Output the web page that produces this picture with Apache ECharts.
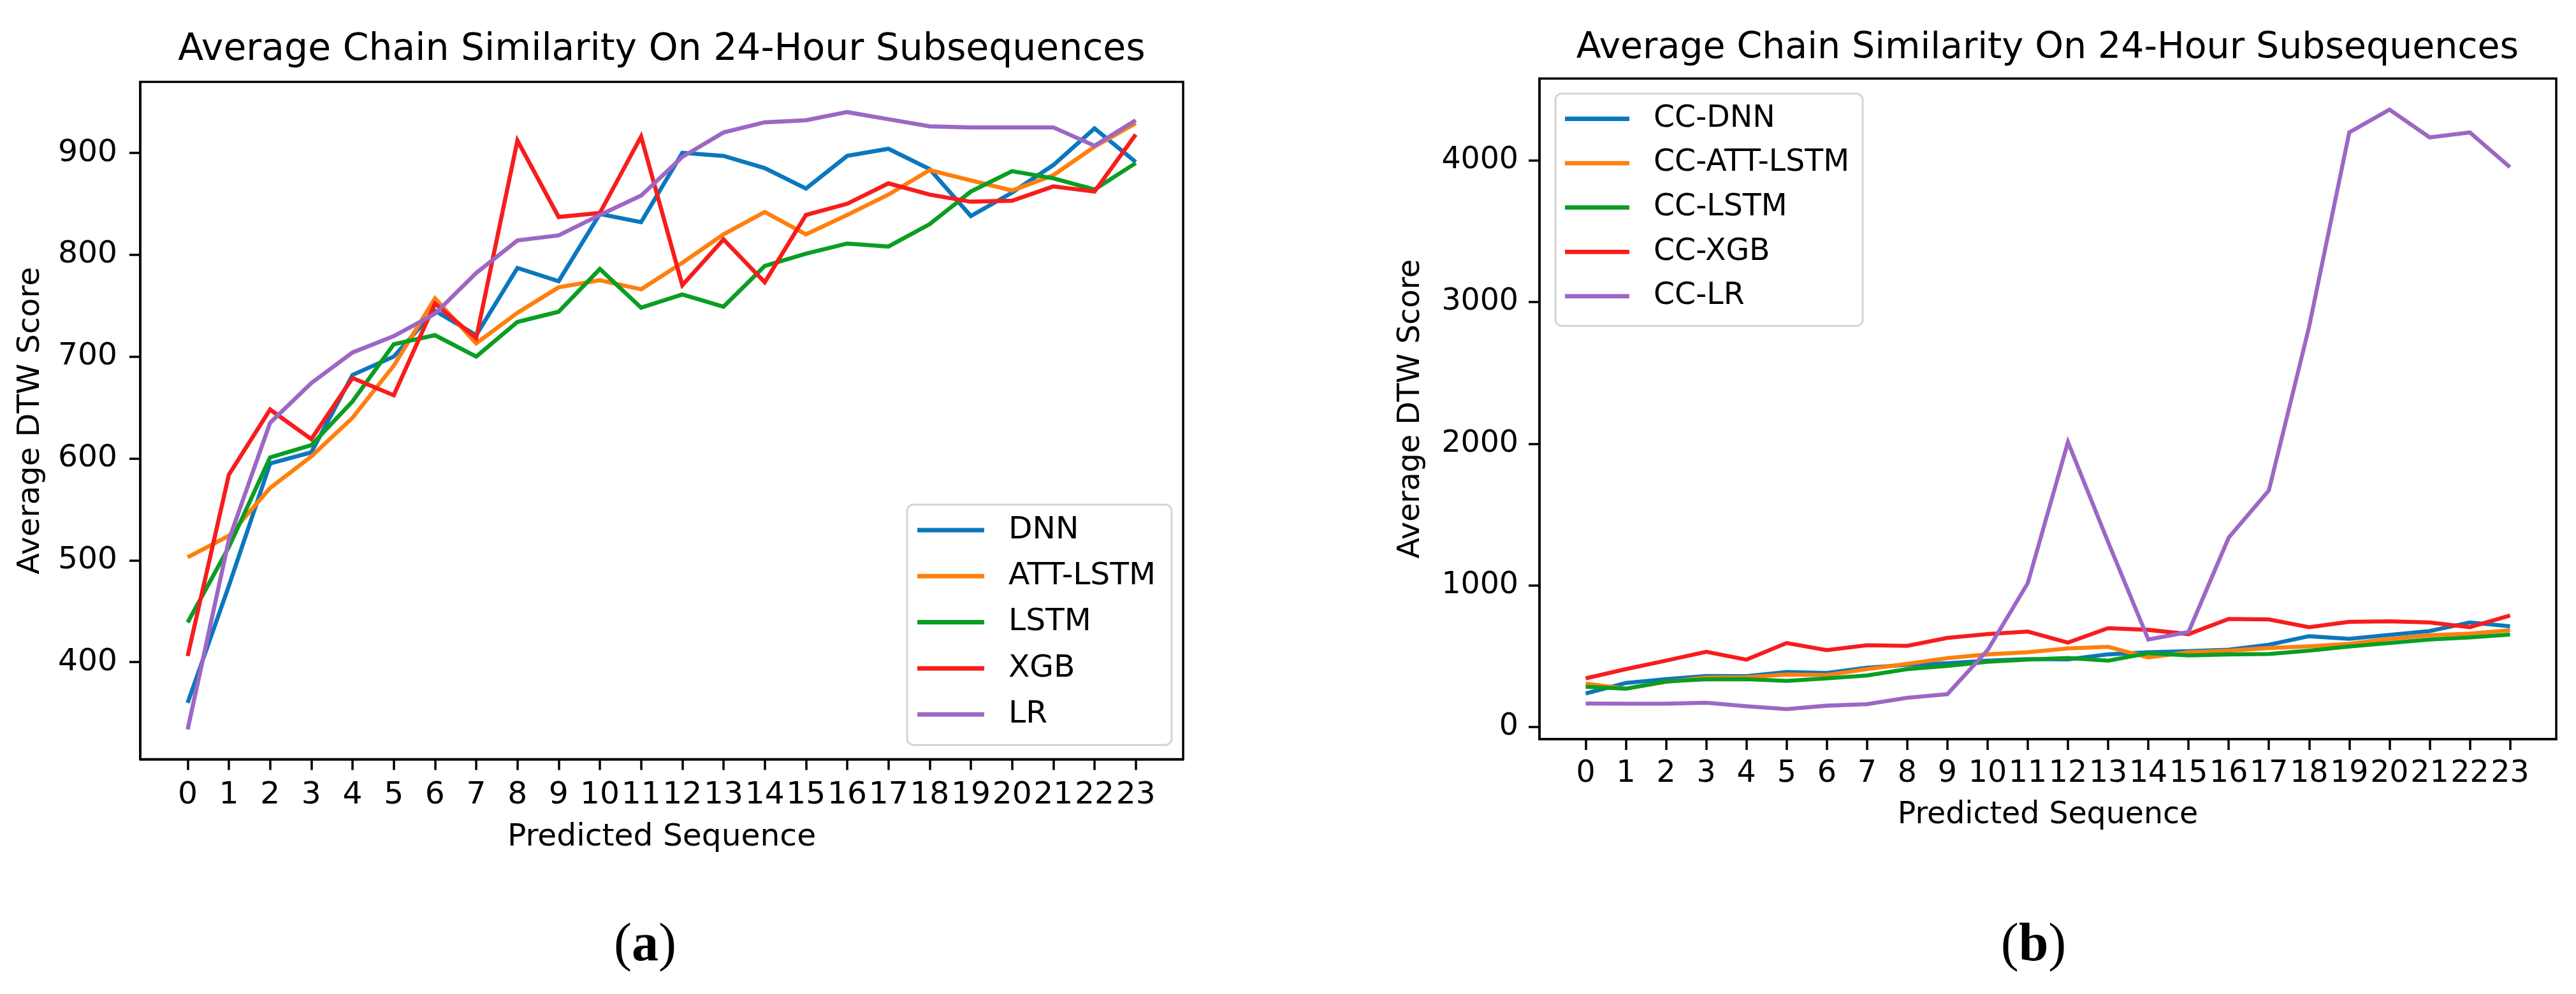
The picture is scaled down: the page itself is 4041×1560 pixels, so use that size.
<!DOCTYPE html>
<html>
<head>
<meta charset="utf-8">
<script src="https://cdn.jsdelivr.net/npm/echarts@6/dist/echarts.min.js"></script>
<style>html,body{margin:0;padding:0;background:#fff}#c{width:4041px;height:1560px}</style>
</head>
<body>
<div id="c"></div>
<script>
// ---- data ----
const hours = [0,1,2,3,4,5,6,7,8,9,10,11,12,13,14,15,16,17,18,19,20,21,22,23];
const yTicksA = [400,500,600,700,800,900];
const yTicksB = [0,1000,2000,3000,4000];

const namesA = ['DNN','ATT-LSTM','LSTM','XGB','LR'];
const dnn   = [360,475,595,606,682,700,745,721,787,774,840,832,900,897,885,865,897,904,884,838,861,888,924,891];
const att   = [503,524,571,602,640,691,757,713,743,768,775,766,792,820,842,820,839,859,883,873,863,878,906,929];
const lstm  = [439,513,601,613,656,712,721,700,734,744,786,748,761,749,789,801,811,808,830,862,882,875,864,890];
const xgb   = [406,584,648,619,679,662,752,718,912,837,841,916,770,815,773,839,850,870,859,852,853,867,862,918];
const lr    = [334,520,635,674,704,720,742,782,814,819,839,858,896,920,930,932,940,933,926,925,925,925,907,932];

const namesB = ['CC-DNN','CC-ATT-LSTM','CC-LSTM','CC-XGB','CC-LR'];
const ccDnn  = [237,311,338,361,359,389,382,419,439,451,469,480,478,513,528,536,546,581,641,623,651,678,738,711];
const ccAtt  = [307,271,319,349,352,371,367,409,446,487,513,528,555,566,491,528,539,558,570,588,623,648,660,683];
const ccLstm = [284,271,322,337,338,326,344,364,409,431,461,476,488,469,521,506,513,516,539,569,593,618,633,653];
const ccXgb  = [344,409,469,531,476,593,543,578,573,629,656,674,596,698,686,656,763,760,705,743,746,738,705,787];
const ccLr   = [166,165,165,172,147,127,151,162,207,232,543,1015,2011,1305,618,671,1337,1671,2824,4196,4357,4161,4196,3951];

const titleText = 'Average Chain Similarity On 24-Hour Subsequences';
const xName = 'Predicted Sequence';
const yName = 'Average DTW Score';

// ---- styles ----
const F = 'DejaVu Sans';
const colors = ['#0b77bd','#ff7f0e','#0a9e22','#f81c1c','#9d67c4'];
const fsA = 48.7, fsB = 47.4;

const seriesA = [dnn, att, lstm, xgb, lr];
const seriesB = [ccDnn, ccAtt, ccLstm, ccXgb, ccLr];

const plain = v => String(v);

function mkX(gridIndex, fs, margin, gap) {
  return {
    type:'value', gridIndex, min:-1.15, max:24.15,
    name:xName, nameLocation:'middle', nameGap:gap,
    nameTextStyle:{fontFamily:F, fontSize:fs, color:'#000'},
    axisLine:{show:true, onZero:false, lineStyle:{color:'#000', width:3.5}},
    axisTick:{show:true, customValues:hours, length:17, lineStyle:{color:'#000', width:3.5}},
    axisLabel:{customValues:hours, formatter:plain, margin, fontFamily:F, fontSize:fs, color:'#000', hideOverlap:false},
    splitLine:{show:false}
  };
}
function mkY(gridIndex, fs, min, max, ticks, margin, gap) {
  return {
    type:'value', gridIndex, min, max,
    name:yName, nameLocation:'middle', nameGap:gap,
    nameTextStyle:{fontFamily:F, fontSize:fs, color:'#000'},
    axisLine:{show:true, onZero:false, lineStyle:{color:'#000', width:3.5}},
    axisTick:{show:true, customValues:ticks, length:17, lineStyle:{color:'#000', width:3.5}},
    axisLabel:{customValues:ticks, formatter:plain, margin, fontFamily:F, fontSize:fs, color:'#000'},
    splitLine:{show:false}
  };
}
function mkSeries(names, arrs, axisIndex, w) {
  return arrs.map((arr, k) => ({
    name:names[k], type:'line', xAxisIndex:axisIndex, yAxisIndex:axisIndex,
    data: hours.map((h, i) => [h, arr[i]]),
    showSymbol:false, symbol:'none', color:colors[k],
    lineStyle:{width:w, color:colors[k], cap:'butt', join:'miter'},
    emphasis:{disabled:true}, z:2+k
  }));
}

const chart = echarts.init(document.getElementById('c'), null, {renderer:'canvas'});
chart.setOption({
  animation:false,
  backgroundColor:'#fff',
  grid:[
    {left:220, top:128.6, width:1636, height:1063, show:true, borderColor:'#000', borderWidth:3.5, backgroundColor:'transparent'},
    {left:2415, top:123.3, width:1595, height:1036.7, show:true, borderColor:'#000', borderWidth:3.5, backgroundColor:'transparent'}
  ],
  xAxis:[ mkX(0, fsA, 32, 98), mkX(1, fsB, 31, 96) ],
  yAxis:[ mkY(0, fsA, 304.7, 969.6, yTicksA, 36, 147), mkY(1, fsB, -85, 4576, yTicksB, 33, 178) ],
  legend:[
    {orient:'vertical', left:1423, top:792, padding:[15.5,25,23.5,16], itemGap:23.3,
     itemWidth:105, itemHeight:7, icon:'rect', data:namesA,
     borderColor:'#d4d4d4', borderWidth:3, borderRadius:10, backgroundColor:'rgba(255,255,255,0.8)',
     textStyle:{fontFamily:F, fontSize:fsA, color:'#000', padding:[0,0,0,33]}, selectedMode:false},
    {orient:'vertical', left:2440, top:147, padding:[16,21,23,15], itemGap:22.6,
     itemWidth:101, itemHeight:6.8, icon:'rect', data:namesB,
     borderColor:'#d4d4d4', borderWidth:3, borderRadius:10, backgroundColor:'rgba(255,255,255,0.8)',
     textStyle:{fontFamily:F, fontSize:fsB, color:'#000', padding:[0,0,0,33]}, selectedMode:false}
  ],
  graphic:[
    {type:'text', x:1038, y:50, style:{text:titleText, fontFamily:F, fontSize:58.4, fill:'#000', align:'center', verticalAlign:'top'}},
    {type:'text', x:3212, y:47.7, style:{text:titleText, fontFamily:F, fontSize:56.9, fill:'#000', align:'center', verticalAlign:'top'}},
    {type:'text', x:1012, y:1485, style:{text:'{p|(}{b|a}{p|)}', fill:'#000', align:'center', verticalAlign:'middle',
      rich:{p:{fontFamily:'Liberation Serif', fontSize:84, fill:'#000'}, b:{fontFamily:'Liberation Serif', fontSize:84, fontWeight:'bold', fill:'#000'}}}},
    {type:'text', x:3190, y:1485, style:{text:'{p|(}{b|b}{p|)}', fill:'#000', align:'center', verticalAlign:'middle',
      rich:{p:{fontFamily:'Liberation Serif', fontSize:84, fill:'#000'}, b:{fontFamily:'Liberation Serif', fontSize:84, fontWeight:'bold', fill:'#000'}}}}
  ],
  series:[ ...mkSeries(namesA, seriesA, 0, 6.5), ...mkSeries(namesB, seriesB, 1, 6.3) ]
});
</script>
</body>
</html>
